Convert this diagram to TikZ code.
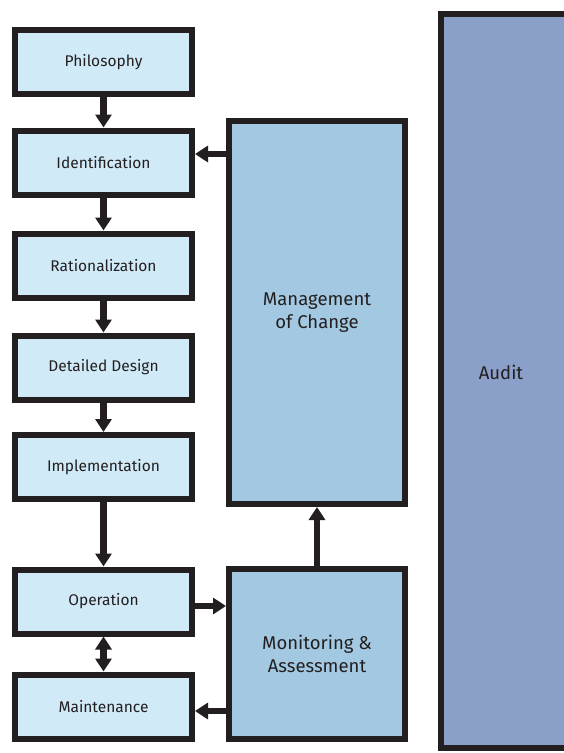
\documentclass[tikz,border=0pt]{standalone}
\usepackage{fontspec}
\setmainfont{Fira Sans}
\usetikzlibrary{arrows.meta}
\definecolor{bord}{HTML}{231F20}
\definecolor{lightbox}{HTML}{D0EAF8}
\definecolor{midbox}{HTML}{A3C9E2}
\definecolor{auditc}{HTML}{8BA0C8}
\tikzset{
  x=1pt, y=1pt,
  stepbox/.style={draw=bord, line width=6pt, fill=lightbox, minimum width=177pt, minimum height=64pt, inner sep=0pt, font=\fontsize{15.5}{18}\selectfont, text=bord},
  bigbox/.style={draw=bord, line width=6pt, fill=midbox, inner sep=0pt, font=\fontsize{18.5}{23}\selectfont, text=bord, align=center},
  arr/.style={draw=bord, line width=6.5pt, -{Triangle[width=16pt,length=13pt]}},
  arrboth/.style={draw=bord, line width=6.5pt, {Triangle[width=16pt,length=13pt]}-{Triangle[width=16pt,length=13pt]}},
}
\begin{document}
\begin{tikzpicture}
\useasboundingbox (0,0) rectangle (564,-753);
\fill[white] (0,0) rectangle (564,-753);
% Audit
\path[draw=bord, line width=6pt, fill=auditc] (441,-14) rectangle (640,-748);
\node[font=\fontsize{18.5}{23}\selectfont, text=bord] (audit) at (501,-372) {Audit};
% step boxes
\node[stepbox] (phil) at (103.5,-62) {Philosophy};
\node[stepbox] (ident) at (103.5,-162.5) {Identification};
\node[stepbox] (rat) at (103.5,-265.5) {Rationalization};
\node[stepbox] (det) at (103.5,-367.5) {Detailed Design};
\node[stepbox] (impl) at (103.5,-467) {Implementation};
\node[stepbox] (oper) at (103.5,-601.5) {Operation};
\node[stepbox] (maint) at (103.5,-706.5) {Maintenance};
% big boxes
\node[bigbox, minimum width=176pt, minimum height=383pt] (moc) at (317,-312.5) {Management\\of Change};
\node[bigbox, minimum width=176pt, minimum height=170pt] (mon) at (317,-654) {Monitoring \&\\Assessment};
% connectors
\draw[arr] (phil) -- (ident);
\draw[arr] (ident) -- (rat);
\draw[arr] (rat) -- (det);
\draw[arr] (det) -- (impl);
\draw[arr] (impl) -- (oper);
\draw[arrboth] (oper) -- (maint);
\draw[arr] (mon) -- (moc);
\coordinate (c1) at (0,-154);
\coordinate (c2) at (0,-606);
\coordinate (c3) at (0,-711);
\draw[arr] (moc.west |- c1) -- (ident.east |- c1);
\draw[arr] (oper.east |- c2) -- (mon.west |- c2);
\draw[arr] (mon.west |- c3) -- (maint.east |- c3);
\end{tikzpicture}
\end{document}
